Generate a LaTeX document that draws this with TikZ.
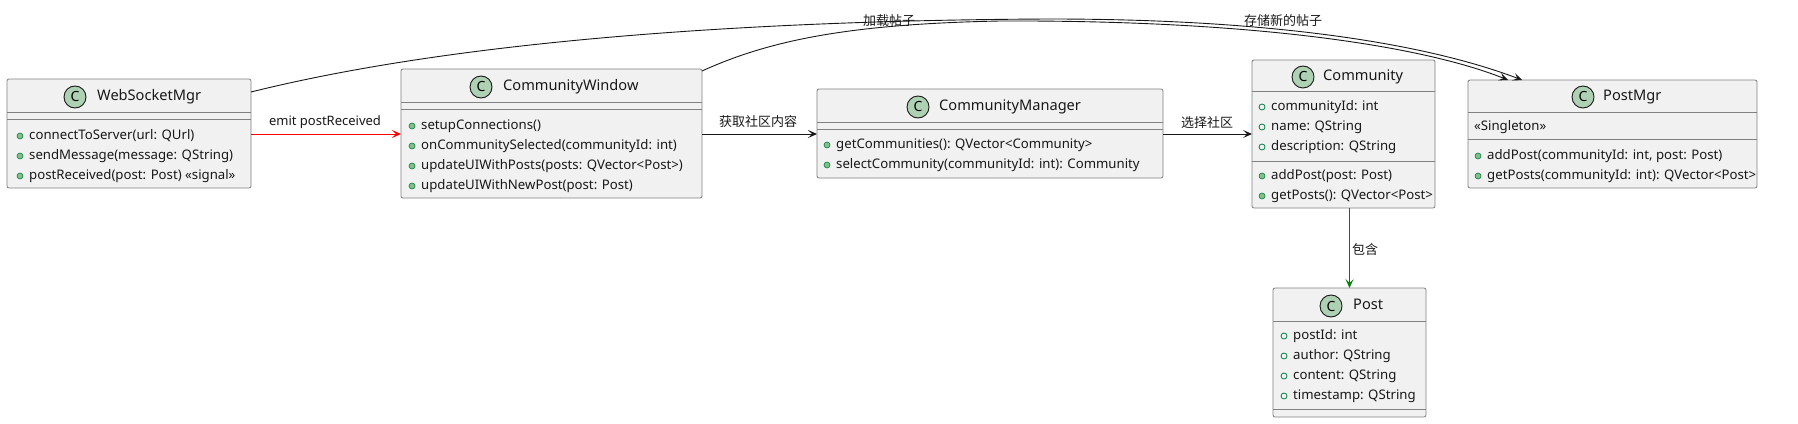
\documentclass[tikz,border=0pt]{standalone}
\usepackage{fontspec}
\setmainfont{Noto Sans}
\newfontfamily\cjk{Noto Sans CJK SC}
\usetikzlibrary{arrows.meta,calc}
\definecolor{boxfill}{HTML}{F1F1F1}
\definecolor{boxline}{HTML}{808080}
\definecolor{ink}{HTML}{181818}
\definecolor{iconfill}{HTML}{ADD1B2}
\definecolor{bulfill}{HTML}{84BE84}
\definecolor{bulline}{HTML}{038048}
\definecolor{redarr}{HTML}{FF0000}
\definecolor{greenarr}{HTML}{008000}
\tikzset{
 classbox/.style={draw=boxline, fill=boxfill, line width=0.8pt, rounded corners=2pt, anchor=north west, inner sep=0pt, outer sep=0pt},
 divider/.style={draw=boxline, line width=0.8pt},
 member/.style={anchor=west, inner sep=0pt, font=\fontsize{13.2}{15}\selectfont, text=ink, text height=10pt, text depth=3pt},
 titletext/.style={anchor=west, inner sep=0pt, font=\fontsize{14.6}{16}\selectfont, text=ink, text height=10.5pt, text depth=3.5pt},
 icon/.style={circle, draw=ink, fill=iconfill, line width=0.9pt, minimum size=22pt, inner sep=0pt, font=\bfseries\fontsize{14}{14}\selectfont},
 conn/.style={draw=ink, line width=0.9pt, -{Stealth[length=9pt,width=8pt,inset=4pt]}},
 elabel/.style={font=\fontsize{13}{14}\selectfont, text=ink, inner sep=0pt},
}
\newcounter{mc}
\newcommand\meth[3]{\stepcounter{mc}\filldraw[fill=bulfill, draw=bulline, line width=0.6pt] (#1,#2) circle (3pt); \node[member] (mem\arabic{mc}) at ({#1+9},#2) {#3};}
\newcommand\fld[3]{\stepcounter{mc}\draw[draw=bulline, line width=0.8pt] (#1,#2) circle (3pt); \node[member] (mem\arabic{mc}) at ({#1+9},#2) {#3};}
\newcommand\hdiv[2]{\draw[divider] (#1.west |- 0,#2) -- (#1.east |- 0,#2);}
\begin{document}
\begin{tikzpicture}[x=1pt,y=-1pt]
\useasboundingbox (0,0) rectangle (1798,423);
% ---------- boxes
\node[classbox, minimum width=244pt, minimum height=109pt] (ws) at (7,79) {};
\node[classbox, minimum width=301pt, minimum height=129pt] (cw) at (401,69) {};
\node[classbox, minimum width=346pt, minimum height=89pt] (cm) at (817,89) {};
\node[classbox, minimum width=183pt, minimum height=148pt] (com) at (1252,60) {};
\node[classbox, minimum width=289pt, minimum height=108pt] (pm) at (1468,80) {};
\node[classbox, minimum width=153pt, minimum height=129pt] (po) at (1273,288) {};
% ---------- WebSocketMgr
\node[icon] (wsi) at (75,97) {C};
\node[titletext] (wst) at (97,97) {WebSocketMgr};
\hdiv{ws}{112}\hdiv{ws}{119}
\meth{20}{136}{connectToServer(url: QUrl)}
\meth{20}{156}{sendMessage(message: QString)}
\meth{20}{176}{postReceived(post: Post) «signal»}
% ---------- CommunityWindow
\node[icon] (cwi) at (481,87) {C};
\node[titletext] (cwt) at (503,87) {CommunityWindow};
\hdiv{cw}{102}\hdiv{cw}{109}
\meth{412}{126}{setupConnections()}
\meth{412}{146}{onCommunitySelected(communityId: int)}
\meth{412}{166}{updateUIWithPosts(posts: QVector<Post>)}
\meth{412}{186}{updateUIWithNewPost(post: Post)}
% ---------- CommunityManager
\node[icon] (cmi) at (918,107) {C};
\node[titletext] (cmt) at (939,107) {CommunityManager};
\hdiv{cm}{122}\hdiv{cm}{129}
\meth{827}{145}{getCommunities(): QVector<Community>}
\meth{827}{165}{selectCommunity(communityId: int): Community}
% ---------- Community
\node[icon] (comi) at (1303,77) {C};
\node[titletext] (comt) at (1323,77) {Community};
\hdiv{com}{91}
\fld{1262}{107}{communityId: int}
\fld{1262}{127}{name: QString}
\fld{1262}{147}{description: QString}
\hdiv{com}{161}
\meth{1262}{176}{addPost(post: Post)}
\meth{1262}{196}{getPosts(): QVector<Post>}
% ---------- PostMgr
\node[icon] (pmi) at (1583,97) {C};
\node[titletext] (pmt) at (1603,97) {PostMgr};
\hdiv{pm}{112}
\node[member] (pms) at (1474,127) {«Singleton»};
\hdiv{pm}{139}
\meth{1478}{156}{addPost(communityId: int, post: Post)}
\meth{1478}{176}{getPosts(communityId: int): QVector<Post>}
% ---------- Post
\node[icon] (poi) at (1331,306) {C};
\node[titletext] (pot) at (1353,306) {Post};
\hdiv{po}{321}
\fld{1284}{336}{postId: int}
\fld{1284}{356}{author: QString}
\fld{1284}{376}{content: QString}
\fld{1284}{396}{timestamp: QString}
\hdiv{po}{409}
% ---------- connectors
\draw[conn, draw=redarr] (ws.east |- 0,134) -- (cw.west |- 0,134);
\draw[conn] (cw.east |- 0,134) -- (cm.west |- 0,134);
\draw[conn] (cm.east |- 0,134) -- (com.west |- 0,134);
\draw[conn, draw=greenarr] (po.north |- com.south) -- (po.north);
\coordinate (wsway) at (1050,19);
\coordinate (cwway) at (1000,21);
\draw[conn] ([yshift=-13pt]ws.north east) .. controls (480,35) and (800,20) .. (wsway) .. controls (1280,19) and (1430,45) .. ([xshift=54pt]pm.north west);
\draw[conn] ([yshift=-2pt]cw.north east) .. controls (770,40) and (850,24) .. (cwway) .. controls (1250,20) and (1420,45) .. ([xshift=40pt]pm.north west);
% ---------- labels
\node[elabel] (l1) at (325,122) {emit postReceived};
\node[elabel] (l2) at (758,122) {\cjk 获取社区内容};
\node[elabel] (l3) at (1207,123) {\cjk 选择社区};
\node[elabel, anchor=west] (l4) at (1352,250) {\cjk 包含};
\node[elabel] (l5) at (889,21) {\cjk 加载帖子};
\node[elabel] (l6) at (1283,21) {\cjk 存储新的帖子};
\end{tikzpicture}
\end{document}
